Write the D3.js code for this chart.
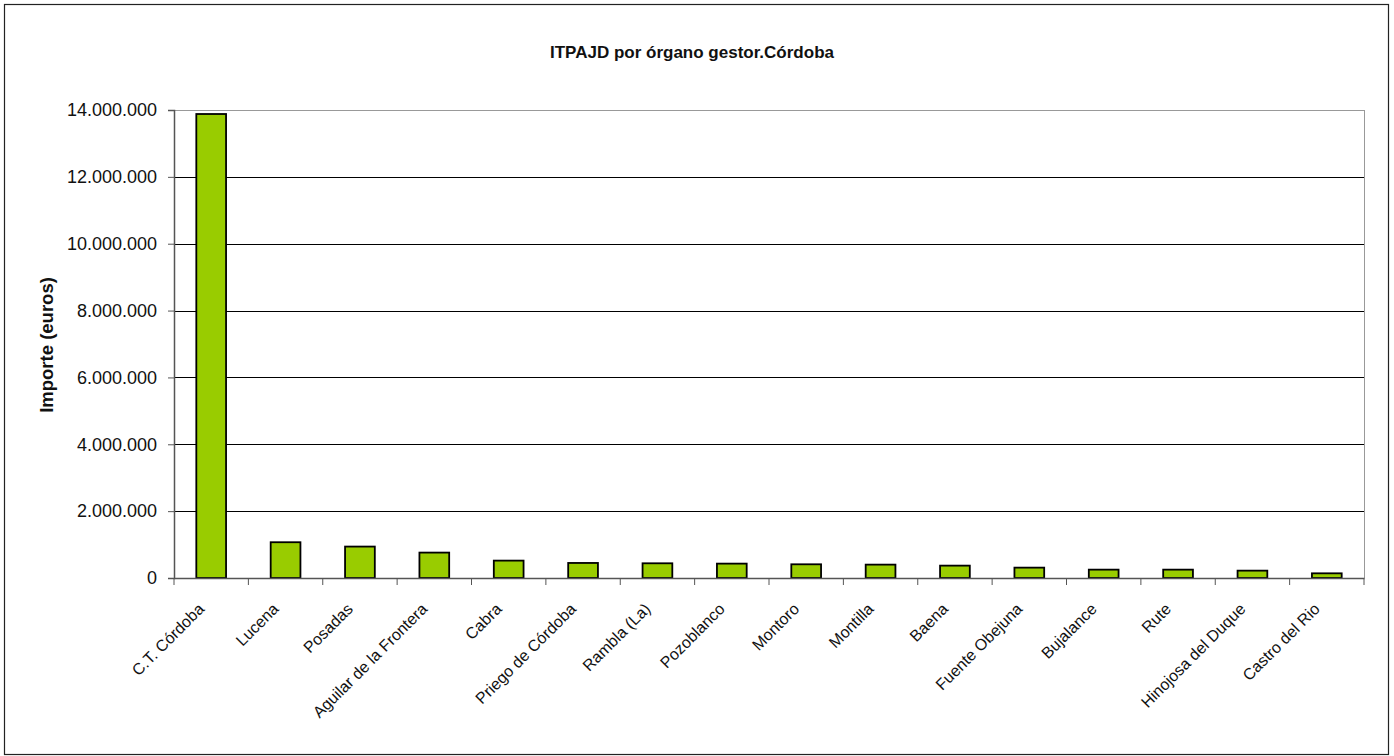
<!DOCTYPE html>
<html>
<head>
<meta charset="utf-8">
<script src="https://cdn.jsdelivr.net/npm/d3@7"></script>
<style>
  html, body { margin: 0; padding: 0; background: #fff; }
  svg { display: block; }
  text { font-family: "Liberation Sans", Arial, sans-serif; fill: #111; }
</style>
</head>
<body>
<div id="chart"></div>
<script>
// Datos
const oficinas = [
  "C.T. Córdoba", "Lucena", "Posadas", "Aguilar de la Frontera", "Cabra",
  "Priego de Córdoba", "Rambla (La)", "Pozoblanco", "Montoro", "Montilla",
  "Baena", "Fuente Obejuna", "Bujalance", "Rute", "Hinojosa del Duque", "Castro del Rio"
];
const importes = [
  13880000, 1070000, 940000, 760000, 520000,
  450000, 440000, 430000, 410000, 400000,
  370000, 310000, 250000, 250000, 220000, 140000
];
const yTicks = [0, 2000000, 4000000, 6000000, 8000000, 10000000, 12000000, 14000000];

const W = 1394, H = 756;
const plot = { x0: 174, x1: 1364, y0: 110, y1: 578 };

const svg = d3.select("#chart").append("svg")
  .attr("width", W).attr("height", H);

// Marco exterior
svg.append("rect")
  .attr("x", 4.5).attr("y", 4.5)
  .attr("width", 1384).attr("height", 750)
  .attr("fill", "#fff").attr("stroke", "#222").attr("stroke-width", 1.2);

// Escalas
const x = d3.scaleBand().domain(oficinas).range([plot.x0, plot.x1]).paddingInner(0.6).paddingOuter(0.3);
const xb = d3.scaleBand().domain(oficinas).range([plot.x0, plot.x1]);
const y = d3.scaleLinear().domain([0, 14000000]).range([plot.y1, plot.y0]);

const fmt = v => d3.format(",")(v).replace(/,/g, ".");

// Rejilla
svg.append("g").selectAll("line")
  .data(yTicks.slice(1, -1))
  .join("line")
  .attr("x1", plot.x0).attr("x2", plot.x1)
  .attr("y1", d => Math.round(y(d)) + 0.5).attr("y2", d => Math.round(y(d)) + 0.5)
  .attr("stroke", "#000").attr("stroke-width", 1);

// Borde del área de trazado
svg.append("line")
  .attr("x1", plot.x0).attr("x2", plot.x1).attr("y1", plot.y0 + 0.5).attr("y2", plot.y0 + 0.5)
  .attr("stroke", "#999");
svg.append("line")
  .attr("x1", plot.x1 + 0.5).attr("x2", plot.x1 + 0.5).attr("y1", plot.y0).attr("y2", plot.y1)
  .attr("stroke", "#999");

// Barras
svg.append("g").selectAll("rect")
  .data(importes)
  .join("rect")
  .attr("x", (d, i) => x(oficinas[i]))
  .attr("y", d => y(d))
  .attr("width", x.bandwidth())
  .attr("height", d => y(0) - y(d))
  .attr("fill", "#99cc00")
  .attr("stroke", "#000").attr("stroke-width", 1.8);

// Eje Y
const yAxis = svg.append("g")
  .attr("transform", `translate(${plot.x0},0)`)
  .call(d3.axisLeft(y).tickValues(yTicks).tickSize(6).tickPadding(11).tickFormat(fmt));
yAxis.select(".domain").attr("stroke", "#555").attr("stroke-width", 1.5);
yAxis.selectAll(".tick line").attr("stroke", "#555");
yAxis.selectAll("text").attr("font-size", 18).attr("fill", "#111")
  .attr("font-family", "'Liberation Sans', Arial, sans-serif");

// Eje X
const xAxis = svg.append("g")
  .attr("transform", `translate(0,${plot.y1})`)
  .call(d3.axisBottom(xb).tickSize(0).tickFormat(""));
xAxis.select(".domain").attr("stroke", "#555").attr("stroke-width", 1.5);
svg.append("g").selectAll("line")
  .data(oficinas.concat(["__fin"]))
  .join("line")
  .attr("x1", (d, i) => plot.x0 + xb.step() * i)
  .attr("x2", (d, i) => plot.x0 + xb.step() * i)
  .attr("y1", plot.y1).attr("y2", plot.y1 + 7)
  .attr("stroke", "#555");

svg.append("g").selectAll("text")
  .data(oficinas)
  .join("text")
  .attr("transform", d => `translate(${xb(d) + xb.bandwidth() / 2 - 6},${plot.y1 + 32}) rotate(-45)`)
  .attr("text-anchor", "end")
  .attr("font-size", 16)
  .text(d => d);

// Títulos
svg.append("text")
  .attr("x", 692).attr("y", 58)
  .attr("text-anchor", "middle")
  .attr("font-size", 17).attr("font-weight", "bold")
  .text("ITPAJD por órgano gestor.Córdoba");

svg.append("text")
  .attr("transform", `translate(53,${(plot.y0 + plot.y1) / 2 + 1}) rotate(-90)`)
  .attr("text-anchor", "middle")
  .attr("font-size", 18.5).attr("font-weight", "bold")
  .text("Importe (euros)");
</script>
</body>
</html>
